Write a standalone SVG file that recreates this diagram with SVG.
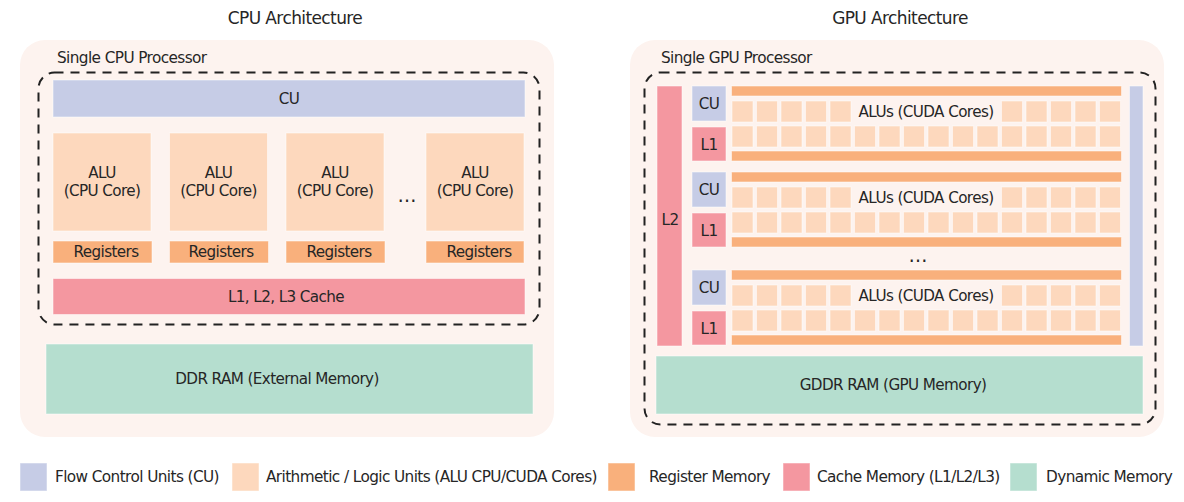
<svg xmlns="http://www.w3.org/2000/svg" xmlns:xlink="http://www.w3.org/1999/xlink" width="1184" height="502" viewBox="0 0 1184 502">
<style>
text{font-family:"DejaVu Sans","Liberation Sans",sans-serif;fill:#262626;letter-spacing:-0.6px}
.t{font-size:17px;text-anchor:middle}
.s{font-size:15.3px}
.m{font-size:15.2px;text-anchor:middle}
.el{font-size:19px;text-anchor:middle;letter-spacing:0}
.panel{fill:#fdf3ef}
.dash{fill:none;stroke:#222;stroke-width:2;stroke-dasharray:9 7}
.cu{fill:#c6cce6;stroke:#fff;stroke-opacity:.5}
.alu{fill:#fdd8bd;stroke:#fff;stroke-opacity:.5}
.reg{fill:#f9b07c;stroke:#fff;stroke-opacity:.5}
.cache{fill:#f497a0;stroke:#fff;stroke-opacity:.5}
.dyn{fill:#b5decf;stroke:#fff;stroke-opacity:.5}
</style>
<defs>
<g id="c5">
<rect class="alu" x="0" y="0" width="21" height="21"/>
<rect class="alu" x="24.5" y="0" width="21" height="21"/>
<rect class="alu" x="49" y="0" width="21" height="21"/>
<rect class="alu" x="73.5" y="0" width="21" height="21"/>
<rect class="alu" x="98" y="0" width="21" height="21"/>
</g>
<g id="c16">
<use xlink:href="#c5" x="0"/>
<use xlink:href="#c5" x="122.5"/>
<use xlink:href="#c5" x="245"/>
<rect class="alu" x="367.5" y="0" width="21" height="21"/>
</g>
<g id="sm">
<rect class="reg" x="731.5" y="0" width="390" height="10"/>
<use xlink:href="#c5" x="732" y="15"/>
<use xlink:href="#c5" x="1001.5" y="15"/>
<text class="m" x="926" y="31">ALUs (CUDA Cores)</text>
<use xlink:href="#c16" x="732" y="40"/>
<rect class="reg" x="731.5" y="65" width="390" height="10"/>
<rect class="cu" x="692" y="0" width="34" height="35"/>
<text class="m" x="709" y="23">CU</text>
<rect class="cache" x="692" y="41" width="34" height="34"/>
<text class="m" x="709" y="64">L1</text>
</g>
</defs>

<text class="t" x="295" y="24">CPU Architecture</text>
<text class="t" x="900" y="24">GPU Architecture</text>

<g id="cpu-processor">
<rect class="panel" x="20" y="40" width="534" height="397" rx="25"/>
<text class="s" x="57" y="63">Single CPU Processor</text>
<rect class="dash" x="38.5" y="72.5" width="501" height="252" rx="16"/>
</g>
<g id="cpu-cu">
<rect class="cu" x="53" y="80" width="472" height="37"/>
<text class="m" x="289" y="104">CU</text>
</g>
<g id="cpu-alu1">
<rect class="alu" x="53" y="133" width="98" height="98"/>
<text class="m" x="102" y="178">ALU</text>
<text class="m" x="102" y="196">(CPU Core)</text>
</g>
<g id="cpu-alu2">
<rect class="alu" x="169.5" y="133" width="98" height="98"/>
<text class="m" x="218.5" y="178">ALU</text>
<text class="m" x="218.5" y="196">(CPU Core)</text>
</g>
<g id="cpu-alu3">
<rect class="alu" x="286" y="133" width="98" height="98"/>
<text class="m" x="335" y="178">ALU</text>
<text class="m" x="335" y="196">(CPU Core)</text>
</g>
<g id="cpu-alu4">
<rect class="alu" x="426" y="133" width="98" height="98"/>
<text class="m" x="475" y="178">ALU</text>
<text class="m" x="475" y="196">(CPU Core)</text>
</g>
<text class="el" x="407" y="202">…</text>
<g id="cpu-reg1"><rect class="reg" x="53" y="241" width="99" height="22"/><text class="m" x="106" y="257">Registers</text></g>
<g id="cpu-reg2"><rect class="reg" x="169.5" y="241" width="99" height="22"/><text class="m" x="221" y="257">Registers</text></g>
<g id="cpu-reg3"><rect class="reg" x="286" y="241" width="99" height="22"/><text class="m" x="339" y="257">Registers</text></g>
<g id="cpu-reg4"><rect class="reg" x="426" y="241" width="98" height="22"/><text class="m" x="479" y="257">Registers</text></g>
<g id="cpu-cache">
<rect class="cache" x="53" y="278.5" width="472" height="36"/>
<text class="m" x="286" y="302">L1, L2, L3 Cache</text>
</g>
<g id="cpu-ddr">
<rect class="dyn" x="46" y="344" width="487" height="70"/>
<text class="m" x="277" y="384">DDR RAM (External Memory)</text>
</g>

<g id="gpu-processor">
<rect class="panel" x="630" y="40" width="534" height="397" rx="25"/>
<text class="s" x="661" y="63">Single GPU Processor</text>
<rect class="dash" x="644.5" y="72.5" width="511" height="352" rx="16"/>
</g>
<g id="gpu-l2">
<rect class="cache" x="657" y="86" width="25" height="260"/>
<text class="m" x="670" y="225">L2</text>
</g>
<g id="gpu-sm1"><use xlink:href="#sm" y="86"/></g>
<g id="gpu-sm2"><use xlink:href="#sm" y="172"/></g>
<text class="el" x="918" y="262">…</text>
<g id="gpu-sm3"><use xlink:href="#sm" y="270"/></g>
<g id="gpu-cu-bar"><rect class="cu" x="1129.5" y="86" width="13.5" height="260"/></g>
<g id="gpu-gddr">
<rect class="dyn" x="656" y="356" width="487" height="58"/>
<text class="m" x="893" y="390">GDDR RAM (GPU Memory)</text>
</g>

<g id="connectors"></g>

<g id="legend">
<rect class="cu" x="20" y="463" width="27" height="28"/>
<text class="s" x="55" y="482">Flow Control Units (CU)</text>
<rect class="alu" x="232" y="463" width="27" height="28"/>
<text class="s" x="266" y="482">Arithmetic / Logic Units (ALU CPU/CUDA Cores)</text>
<rect class="reg" x="608" y="463" width="27" height="28"/>
<text class="s" x="649" y="482">Register Memory</text>
<rect class="cache" x="783" y="463" width="27" height="28"/>
<text class="s" x="817" y="482">Cache Memory (L1/L2/L3)</text>
<rect class="dyn" x="1010" y="463" width="27" height="28"/>
<text class="s" x="1046" y="482">Dynamic Memory</text>
</g>
</svg>
